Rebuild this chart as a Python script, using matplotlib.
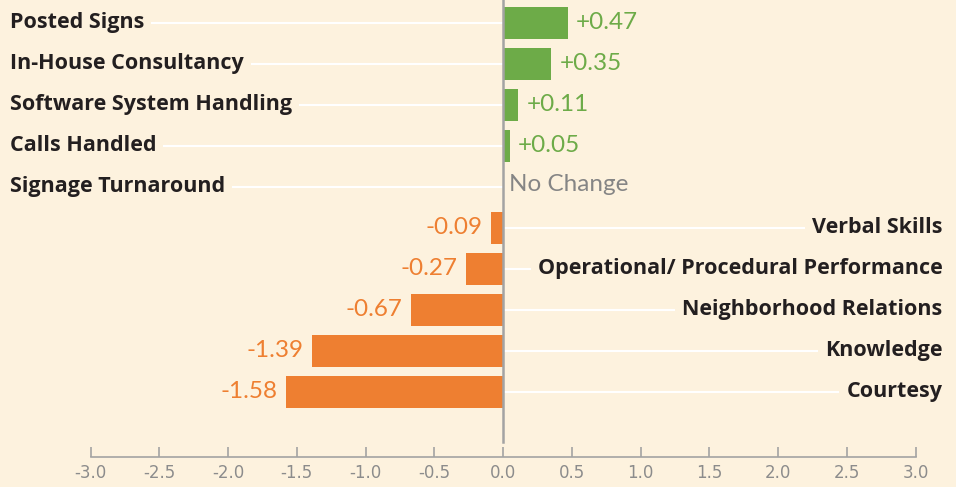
import numpy as np
import matplotlib
matplotlib.use("Agg")
import matplotlib.pyplot as plt

# chart data (top to bottom)
categories = ["Posted Signs", "In-House Consultancy", "Software System Handling",
              "Calls Handled", "Signage Turnaround", "Verbal Skills",
              "Operational/ Procedural Performance", "Neighborhood Relations",
              "Knowledge", "Courtesy"]
changes = [0.47, 0.35, 0.11, 0.05, 0.0, -0.09, -0.27, -0.67, -1.39, -1.58]
value_labels = ["+0.47", "+0.35", "+0.11", "+0.05", "No Change",
                "-0.09", "-0.27", "-0.67", "-1.39", "-1.58"]
x_ticks = [-3.0, -2.5, -2.0, -1.5, -1.0, -0.5, 0.0, 0.5, 1.0, 1.5, 2.0, 2.5, 3.0]

bg = "#FDF2DE"
green = "#6DAB48"
orange = "#EE7F31"
dark = "#231F20"
grey_axis = "#A3A3A3"

fig = plt.figure(figsize=(9.56, 4.87), dpi=100, facecolor=bg)
ax = fig.add_axes([90.5 / 956, 30 / 487, 825 / 956, 457 / 487])
ax.set_facecolor(bg)

y = np.arange(len(categories))
colors = [green if v > 0 else orange for v in changes]
ax.barh(y, changes, height=0.78, color=colors, zorder=2)

ax.set_xlim(-3, 3)
ax.set_ylim(10.59, -0.56)

# zero line
ax.plot([0, 0], [-0.56, 10.22], color=grey_axis, lw=1.8, zorder=4, clip_on=False)

label_font = dict(family="Open Sans", weight="bold", size=15.5, color=dark)
for yi, cat, v, lab in zip(y, categories, changes, value_labels):
    if v >= 0:
        # label at far left, white guide line to zero
        ax.plot([-3.6, 0], [yi, yi], color="white", lw=1.5, zorder=1, clip_on=False)
        ax.text(-3.585, yi, cat, ha="left", va="center", zorder=3,
                bbox=dict(facecolor=bg, edgecolor="none", pad=5), **label_font)
    else:
        ax.plot([0, 3.2], [yi, yi], color="white", lw=1.5, zorder=1, clip_on=False)
        ax.text(3.195, yi, cat, ha="right", va="center", zorder=3,
                bbox=dict(facecolor=bg, edgecolor="none", pad=5), **label_font)

    if v > 0:
        ax.annotate(lab, (v, yi), xytext=(6, 0), textcoords="offset points",
                    ha="left", va="center", color=green, fontsize=17.5, family="Lato")
    elif v < 0:
        ax.annotate(lab, (v, yi), xytext=(-6, 0), textcoords="offset points",
                    ha="right", va="center", color=orange, fontsize=17.5, family="Lato")
    else:
        ax.annotate(lab, (v, yi), xytext=(4, 2), textcoords="offset points",
                    ha="left", va="center", color="#858585", fontsize=17.5, family="Lato")

for s in ["top", "right", "left"]:
    ax.spines[s].set_visible(False)
ax.spines["bottom"].set_color(grey_axis)
ax.spines["bottom"].set_linewidth(1.2)
ax.set_yticks([])
ax.set_xticks(x_ticks)
ax.set_xticklabels([f"{t:.1f}" for t in x_ticks], family="Liberation Sans Narrow",
                   fontsize=12, color="#8C8C8C")
ax.tick_params(axis="x", direction="in", length=7, width=1.2, color=grey_axis, pad=5)

fig.savefig("out.png", dpi=100, facecolor=bg)
